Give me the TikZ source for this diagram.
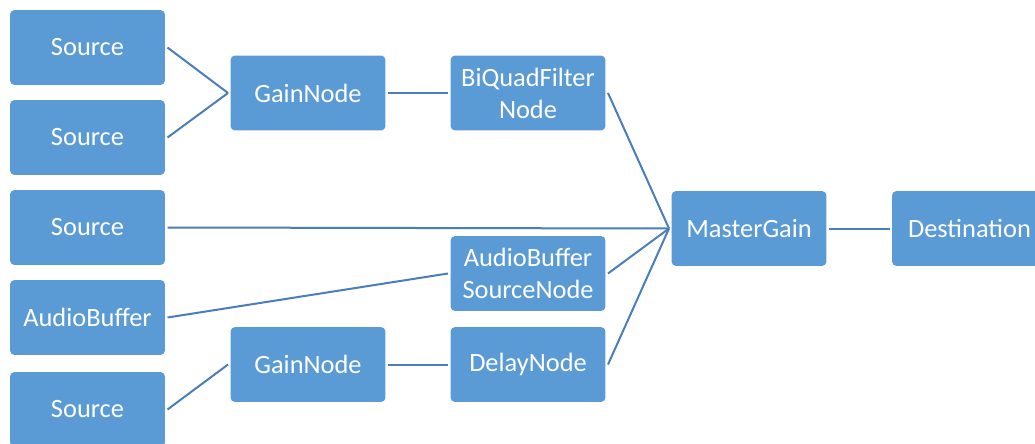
\documentclass[tikz,border=0pt]{standalone}
\usepackage{fontspec}
\setmainfont{Carlito}
\usetikzlibrary{positioning}
\definecolor{boxblue}{RGB}{91,155,213}
\definecolor{lineblue}{RGB}{74,126,187}

\begin{document}
\begin{tikzpicture}[x=0.75pt,y=-0.75pt,
    block/.style={fill=boxblue,rounded corners=3pt,minimum width=116pt,
        minimum height=56pt,text=white,align=center,inner sep=2pt,
        outer sep=2pt,font=\fontsize{19.8}{24}\selectfont},
    link/.style={draw=lineblue,line width=1.5pt}]
    \useasboundingbox (0,0) rectangle (1035,443);

    % Inputs
    \node[block] (src1) at (87.5,47.5)  {Source};
    \node[block] (src2) at (87.5,137.5) {Source};
    \node[block] (src3) at (87.5,227.5) {Source};
    \node[block] (abuf) at (87.5,317.5) {AudioBuffer};
    \node[block] (src4) at (87.5,409.5) {Source};

    % Processing nodes
    \node[block] (gain1)  at (308,93)     {GainNode};
    \node[block] (biquad) at (528,93)     {BiQuadFilter\\Node};
    \node[block] (absn)   at (528,273.5)  {AudioBuffer\\SourceNode};
    \node[block] (gain2)  at (308,364.5)  {GainNode};
    \node[block] (delay)  at (528,364.5)  {DelayNode};

    % Output
    \node[block] (master) at (749,228.5)  {MasterGain};
    \node[block] (dest)   at (969.5,228.5) {Destination};

    % Lines
    \draw[link] (src1.east) -- (gain1.west);
    \draw[link] (src2.east) -- (gain1.west);
    \draw[link] (gain1) -- (biquad);
    \draw[link] (biquad.east) -- (master.west);
    \draw[link] (src3.east) -- (master.west);
    \draw[link] (abuf.east) -- (absn.west);
    \draw[link] (absn.east) -- (master.west);
    \draw[link] (src4.east) -- (gain2.west);
    \draw[link] (gain2) -- (delay);
    \draw[link] (delay.east) -- (master.west);
    \draw[link] (master) -- (dest);
\end{tikzpicture}
\end{document}
